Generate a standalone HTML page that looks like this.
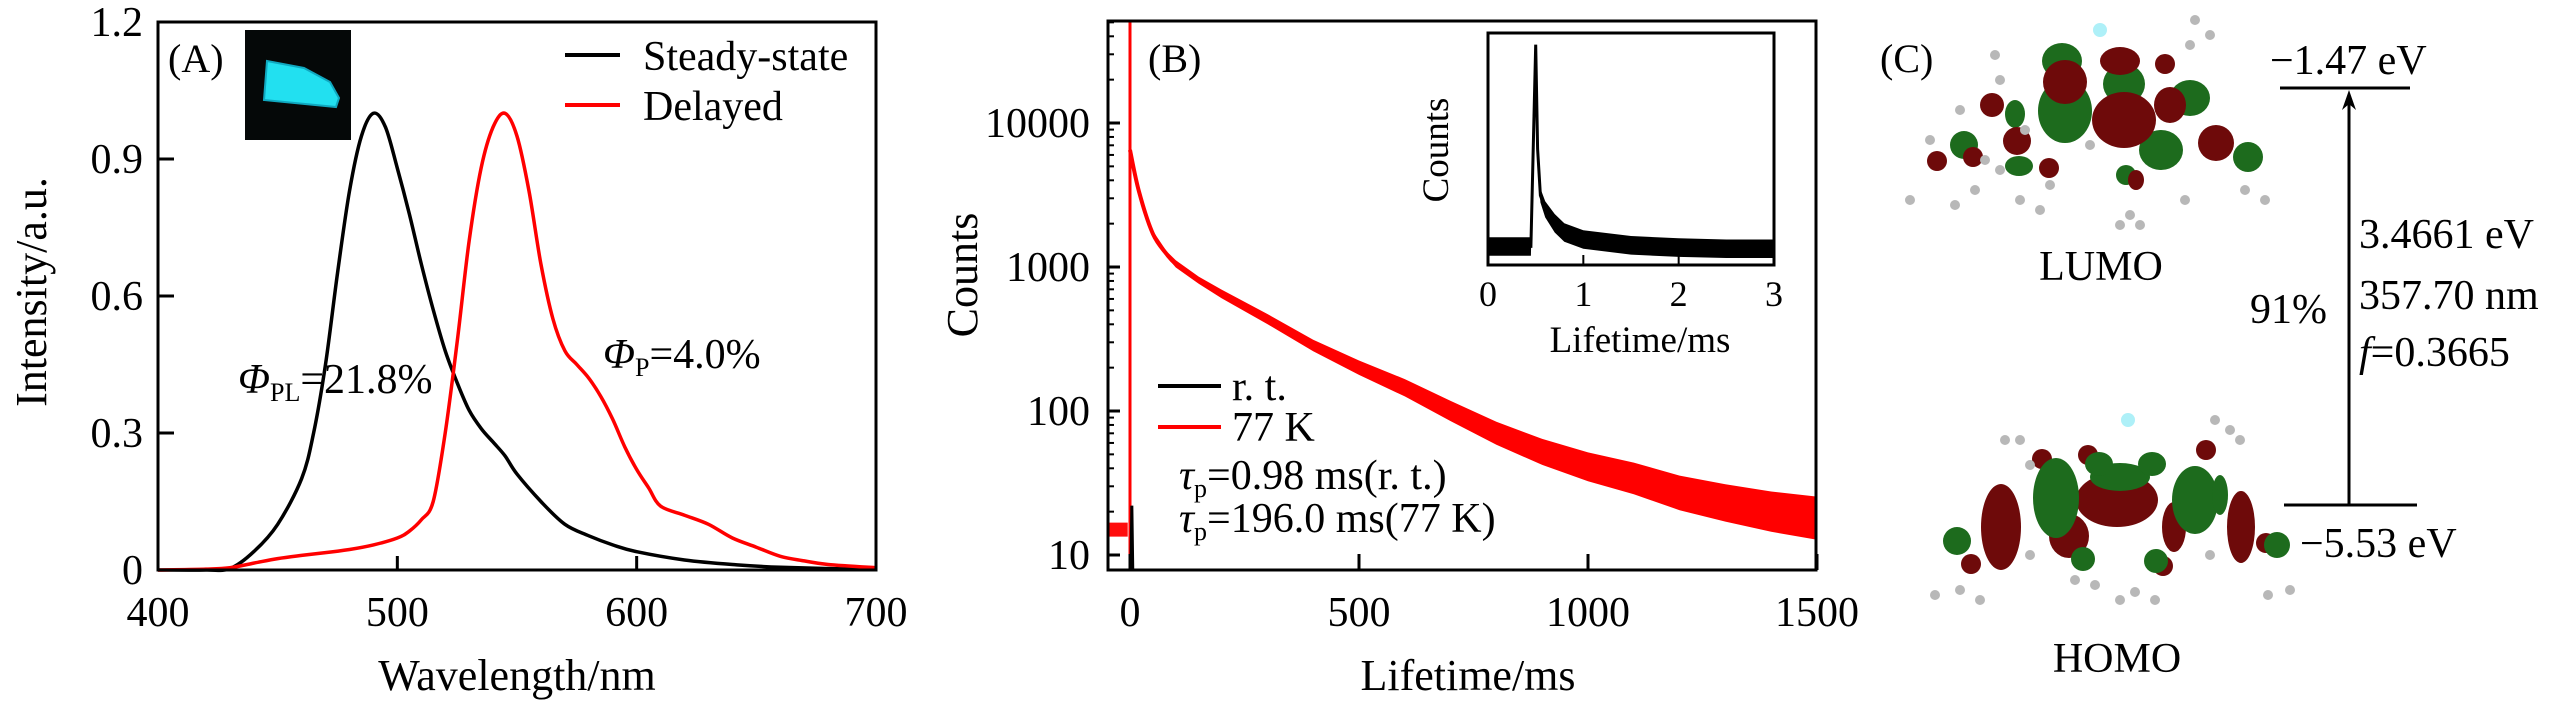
<!DOCTYPE html>
<html><head><meta charset="utf-8"><style>
html,body{margin:0;padding:0;background:#fff}
svg text{font-family:"Liberation Serif","Times New Roman",serif;fill:#000}
</style></head><body>
<svg id="fig" width="2567" height="709" viewBox="0 0 2567 709" xmlns="http://www.w3.org/2000/svg" font-family="Liberation Serif, serif">
<rect width="2567" height="709" fill="#fff"/>
<g id="panelA"></g>
<g id="panelB"></g>
<g id="panelC"></g>
</svg>
<script>
// ---------- Panel A data ----------
const steadyWl = [400,420,430,440,450,460,465,470,475,480,485,490,495,500,505,510,515,520,525,530,535,540,545,550,560,570,580,590,600,620,640,660,700];
const steadyVal = [0,0,0.003,0.04,0.1,0.2,0.3,0.45,0.65,0.83,0.95,1.0,0.97,0.88,0.78,0.67,0.57,0.48,0.41,0.35,0.31,0.28,0.25,0.21,0.15,0.1,0.075,0.055,0.04,0.022,0.012,0.006,0.001];
const delayedWl = [400,420,430,440,450,460,470,480,490,500,505,510,515,520,525,530,535,540,545,550,555,560,565,570,575,580,585,590,595,600,605,610,620,630,640,650,660,670,680,700];
const delayedVal = [0,0.002,0.005,0.015,0.025,0.032,0.038,0.045,0.055,0.07,0.085,0.11,0.15,0.3,0.5,0.72,0.88,0.97,1.0,0.95,0.83,0.67,0.55,0.48,0.45,0.42,0.38,0.33,0.27,0.22,0.18,0.14,0.12,0.1,0.07,0.05,0.03,0.02,0.012,0.005];
const aXTicks = [400,500,600,700];
const aYTicks = [0,0.3,0.6,0.9,1.2];
const aYLabels = ["0","0.3","0.6","0.9","1.2"];
// ---------- Panel B data ----------
const decayT = [0,20,50,80,100,150,200,300,400,500,600,700,800,900,1000,1100,1200,1300,1400,1500];
const decayC = [6500,3300,1700,1230,1050,810,650,435,285,200,145,100,70,52,41,34,27,23,20,18];
const decayNoise = [0.01,0.015,0.02,0.02,0.025,0.025,0.03,0.035,0.04,0.05,0.06,0.07,0.08,0.09,0.1,0.11,0.12,0.13,0.14,0.15];
const bXTicks = [0,500,1000,1500];
const bYTicks = [10,100,1000,10000];
const insetT = [0,0.45,0.5,0.52,0.55,0.6,0.7,0.8,1.0,1.5,2.0,2.5,3.0];
const insetV = [0.08,0.08,0.95,0.5,0.3,0.24,0.18,0.14,0.11,0.085,0.075,0.07,0.07];
const insetNoise = [0.04,0.04,0,0.02,0.03,0.035,0.04,0.04,0.04,0.04,0.04,0.04,0.04];
const insetXTicks = [0,1,2,3];

const NS="http://www.w3.org/2000/svg";
function mk(tag,attrs,parent,txt){const e=document.createElementNS(NS,tag);for(const k in attrs)e.setAttribute(k,attrs[k]);if(txt!==undefined)e.textContent=txt;parent.appendChild(e);return e;}
function smoothPath(xs,ys,fx,fy){
  const P=xs.map((x,i)=>[fx(x),fy(ys[i])]);
  let d='M'+P[0][0].toFixed(1)+','+P[0][1].toFixed(1);
  for(let i=0;i<P.length-1;i++){
    const p0=P[Math.max(i-1,0)],p1=P[i],p2=P[i+1],p3=P[Math.min(i+2,P.length-1)];
    const c1=[p1[0]+(p2[0]-p0[0])/6,p1[1]+(p2[1]-p0[1])/6];
    const c2=[p2[0]-(p3[0]-p1[0])/6,p2[1]-(p3[1]-p1[1])/6];
    d+=`C${c1[0].toFixed(1)},${c1[1].toFixed(1)} ${c2[0].toFixed(1)},${c2[1].toFixed(1)} ${p2[0].toFixed(1)},${p2[1].toFixed(1)}`;
  }
  return d;
}

// ===== Panel A =====
const A=document.getElementById('panelA');
const aL=158,aR=876,aT=22,aB=570;
const ax=v=>aL+(v-400)/300*(aR-aL);
const ay=v=>aB-v/1.2*(aB-aT);
let photo=mk('rect',{x:245,y:30,width:106,height:110,fill:'#050808'},A);


let glow=mk('polygon',{points:'267,61 304,68 330,82 339,98 336,107 264,100',fill:'#22e0f0',stroke:'#10a8c0','stroke-width':2},A);


let s1=mk('path',{d:smoothPath(steadyWl,steadyVal,ax,ay),fill:'none',stroke:'#000','stroke-width':3.5,'stroke-linejoin':'round'},A);


let s2=mk('path',{d:smoothPath(delayedWl,delayedVal,ax,ay),fill:'none',stroke:'#f00','stroke-width':3.5,'stroke-linejoin':'round'},A);


let fa=mk('rect',{x:aL,y:aT,width:aR-aL,height:aB-aT,fill:'none',stroke:'#000','stroke-width':3},A);


aXTicks.forEach(v=>{
  const t=mk('line',{x1:ax(v),x2:ax(v),y1:aB,y2:aB-14,stroke:'#000','stroke-width':3},A);
  
  
  const l=mk('text',{x:ax(v),y:626,'font-size':42,'text-anchor':'middle'},A,String(v));
  
  
});
aYTicks.forEach((v,i)=>{
  const t=mk('line',{x1:aL,x2:aL+16,y1:ay(v),y2:ay(v),stroke:'#000','stroke-width':3},A);
  
  
  const l=mk('text',{x:143,y:ay(v)+14,'font-size':42,'text-anchor':'end'},A,aYLabels[i]);
  
  
});
</script>
<script>
(function(){
const A=document.getElementById('panelA');
A.insertAdjacentHTML('beforeend',`
<text x="517" y="690" font-size="44" text-anchor="middle">Wavelength/nm</text>
<text transform="translate(46,292) rotate(-90)" font-size="44" text-anchor="middle">Intensity/a.u.</text>
<text x="168" y="72" font-size="40">(A)</text>
<line x1="565" x2="620" y1="55" y2="55" stroke="#000" stroke-width="4"/>
<text x="643" y="70" font-size="42">Steady-state</text>
<line x1="565" x2="620" y1="105" y2="105" stroke="#f00" stroke-width="4"/>
<text x="643" y="120" font-size="42">Delayed</text>
<text x="238" y="393" font-size="42"><tspan font-style="italic">Φ</tspan><tspan font-size="26" dy="8">PL</tspan><tspan dy="-8">=21.8%</tspan></text>
<text x="603" y="368" font-size="42"><tspan font-style="italic">Φ</tspan><tspan font-size="26" dy="8">P</tspan><tspan dy="-8">=4.0%</tspan></text>
`);
})();
</script>
<script>
// ===== Panel B =====
(function(){
const B=document.getElementById('panelB');
const bL=1108,bR=1816,bT=21,bB=570;
const bx=t=>1130+t/500*(1359-1130);
const dec=144;
const by=c=>411-(Math.log10(c)-2)*dec;
const cy=v=>Math.min(Math.max(by(v),bT),bB);
let pre=mk('path',{d:`M${bL},${by(15)} L${bx(-5)},${by(15)}`,fill:'none',stroke:'#f00','stroke-width':14,opacity:0.95},B);


let spike=mk('line',{x1:bx(0),x2:bx(0),y1:bT,y2:bB,stroke:'#f00','stroke-width':3},B);


let up=decayT.map((t,i)=>bx(t).toFixed(1)+','+cy(decayC[i]*Math.pow(10,decayNoise[i])).toFixed(1));
let dn=decayT.map((t,i)=>bx(t).toFixed(1)+','+cy(decayC[i]/Math.pow(10,decayNoise[i])).toFixed(1)).reverse();
let band=mk('polygon',{points:up.concat(dn).join(' '),fill:'#f00'},B);


let dl=mk('path',{d:smoothPath(decayT,decayC,bx,cy),fill:'none',stroke:'#f00','stroke-width':4},B);


let rt=mk('path',{d:`M${bx(2)},${bB} L${bx(4)},${by(22)} L${bx(6)},${bB}`,fill:'#000',stroke:'#000','stroke-width':3},B);


let fb=mk('rect',{x:bL,y:bT,width:bR-bL,height:bB-bT,fill:'none',stroke:'#000','stroke-width':3},B);


bXTicks.forEach(v=>{
  const t=mk('line',{x1:bx(v),x2:bx(v),y1:bB,y2:bB-16,stroke:'#000','stroke-width':3},B);
  
  
  const l=mk('text',{x:bx(v),y:626,'font-size':42,'text-anchor':'middle'},B,String(v));
  
  
});
bYTicks.forEach(v=>{
  const t=mk('line',{x1:bL,x2:bL+12,y1:by(v),y2:by(v),stroke:'#000','stroke-width':3},B);
  
  
  const l=mk('text',{x:1090,y:by(v)+14,'font-size':42,'text-anchor':'end'},B,String(v));
  
  
  for(let m=2;m<=9;m++){const mv=v*m;const yy=by(mv);if(yy<bT)continue;
    const mt=mk('line',{x1:bL,x2:bL+6,y1:yy,y2:yy,stroke:'#000','stroke-width':2},B);
    
    }
});
const iL=1488,iR=1774,iT=33,iB=265;
const ix=t=>iL+t/3*(iR-iL);
const iy=v=>iB-v*(iB-iT);
let iu=insetT.map((t,i)=>ix(t).toFixed(1)+','+iy(insetV[i]+insetNoise[i]).toFixed(1));
let idn=insetT.map((t,i)=>ix(t).toFixed(1)+','+iy(Math.max(insetV[i]-insetNoise[i],0)).toFixed(1)).reverse();
let ib=mk('polygon',{points:iu.concat(idn).join(' '),fill:'#000'},B);


let il=mk('path',{d:insetT.map((t,i)=>(i?'L':'M')+ix(t).toFixed(1)+','+iy(insetV[i]).toFixed(1)).join(''),fill:'none',stroke:'#000','stroke-width':3},B);


let ifr=mk('rect',{x:iL,y:iT,width:iR-iL,height:iB-iT,fill:'none',stroke:'#000','stroke-width':3},B);


insetXTicks.forEach(v=>{
  const t=mk('line',{x1:ix(v),x2:ix(v),y1:iB,y2:iB-10,stroke:'#000','stroke-width':2},B);
  
  
  const l=mk('text',{x:ix(v),y:306,'font-size':36,'text-anchor':'middle'},B,String(v));
  
  
});
B.insertAdjacentHTML('beforeend',`
<text x="1640" y="352" font-size="37" text-anchor="middle">Lifetime/ms</text>
<text transform="translate(1448,150) rotate(-90)" font-size="37" text-anchor="middle">Counts</text>
<text x="1468" y="690" font-size="44" text-anchor="middle">Lifetime/ms</text>
<text transform="translate(977,275) rotate(-90)" font-size="44" text-anchor="middle">Counts</text>
<text x="1148" y="72" font-size="40">(B)</text>
<line x1="1158" x2="1221" y1="386" y2="386" stroke="#000" stroke-width="4"/>
<text x="1232" y="400" font-size="42">r. t.</text>
<line x1="1158" x2="1221" y1="427" y2="427" stroke="#f00" stroke-width="4"/>
<text x="1232" y="441" font-size="42">77 K</text>
<text x="1179" y="489" font-size="42"><tspan font-style="italic">τ</tspan><tspan font-size="26" dy="8">p</tspan><tspan dy="-8">=0.98 ms(r. t.)</tspan></text>
<text x="1179" y="532" font-size="42"><tspan font-style="italic">τ</tspan><tspan font-size="26" dy="8">p</tspan><tspan dy="-8">=196.0 ms(77 K)</tspan></text>
`);
})();
</script>
<script>
// ===== Panel C =====
(function(){
const C=document.getElementById('panelC');
const G='#1d6b1d',R='#6e0a0a',Gy='#b8b8b8';
const greyAtoms=[[1995,55],[2000,80],[1960,110],[1930,140],[1910,200],[1955,205],[1975,190],[2020,200],[2040,210],[2050,185],[2000,170],[2130,215],[2140,225],[2120,225],[2185,200],[2245,190],[2265,200],[2190,45],[2210,35],[2195,20],[2090,145],[1985,160],[2025,130],
[1960,590],[1935,595],[1980,600],[2020,440],[2005,440],[2030,465],[2135,592],[2155,600],[2120,600],[2268,595],[2290,590],[2230,430],[2215,420],[2240,440],[2075,580],[2095,585],[2030,555],[2210,555]];
let s='';
[[2065,111,27,32,G],[2124,84,21,20,G],[2062,61,20,18,G],[2190,98,20,18,G],[1964,145,14,14,G],[2161,150,22,20,G],[2248,157,15,15,G],[2019,166,14,10,G],[2015,114,10,14,G],[2126,175,10,10,G],
 [2124,120,32,28,R],[2065,82,22,22,R],[2120,61,20,14,R],[2017,141,14,14,R],[1992,105,12,12,R],[2216,143,18,18,R],[2170,105,16,18,R],[2165,64,10,10,R],[1937,161,10,10,R],[1973,157,10,10,R],[2049,168,10,10,R],[2136,180,8,10,R],
 [2001,527,20,43,R],[2117,500,41,27,R],[2241,527,14,36,R],[2069,536,20,22,R],[2174,527,12,25,R],[2042,459,10,10,R],[2206,450,10,10,R],[2088,455,10,10,R],[2163,566,10,10,R],[1971,564,10,10,R],[2266,543,10,10,R],
 [2056,498,23,40,G],[2195,500,23,34,G],[2120,477,30,14,G],[2099,464,14,12,G],[2152,464,14,12,G],[1957,541,14,14,G],[2277,545,13,13,G],[2083,559,12,12,G],[2156,561,12,12,G],[2220,495,8,20,G]
].forEach(e=>{s+=`<ellipse cx="${e[0]}" cy="${e[1]}" rx="${e[2]}" ry="${e[3]}" fill="${e[4]}"/>`;});
greyAtoms.forEach(a=>{s+=`<circle cx="${a[0]}" cy="${a[1]}" r="5" fill="${Gy}"/>`;});
s+=`<circle cx="2100" cy="30" r="7" fill="#aef0f8"/><circle cx="2128" cy="420" r="7" fill="#aef0f8"/>`;
C.insertAdjacentHTML('beforeend',s+`
<text x="1880" y="72" font-size="40">(C)</text>
<text x="2101" y="280" font-size="42" text-anchor="middle">LUMO</text>
<text x="2117" y="672" font-size="42" text-anchor="middle">HOMO</text>
<line x1="2280" x2="2410" y1="88" y2="88" stroke="#000" stroke-width="3"/>
<line x1="2284" x2="2417" y1="505" y2="505" stroke="#000" stroke-width="3"/>
<line x1="2349" x2="2349" y1="505" y2="96" stroke="#000" stroke-width="3"/>
<polygon points="2349,90 2342,110 2349,104 2356,110" fill="#000"/>
<text x="2270" y="74" font-size="42">−1.47 eV</text>
<text x="2300" y="557" font-size="42">−5.53 eV</text>
<text x="2359" y="248" font-size="42">3.4661 eV</text>
<text x="2359" y="309" font-size="42">357.70 nm</text>
<text x="2359" y="366" font-size="42"><tspan font-style="italic">f</tspan>=0.3665</text>
<text x="2250" y="323" font-size="42">91%</text>
`);
})();
</script>
</body></html>
